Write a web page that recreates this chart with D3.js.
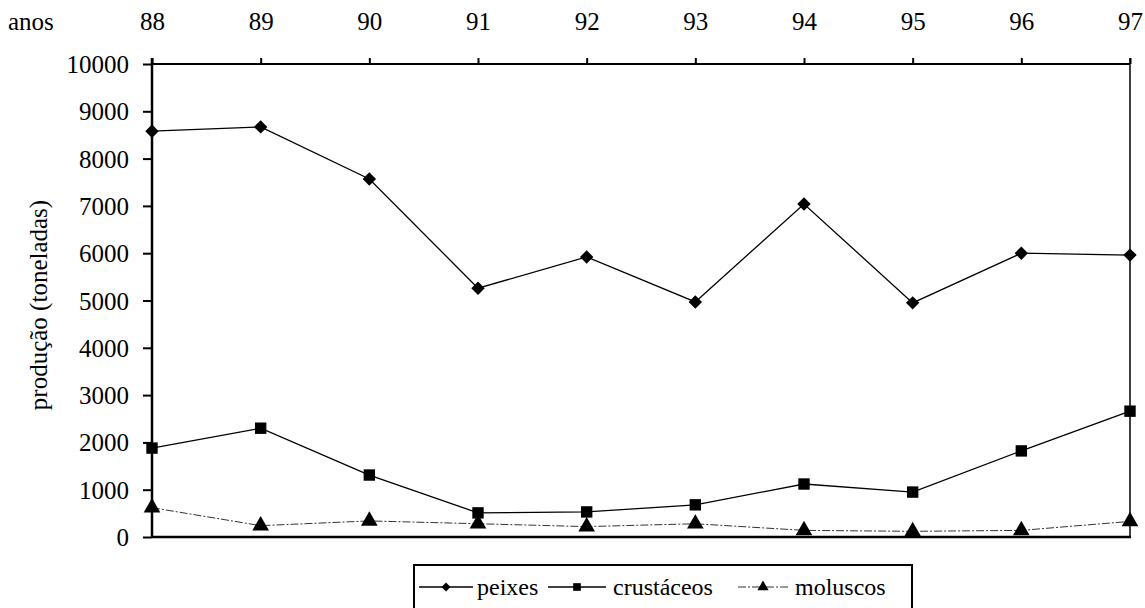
<!DOCTYPE html>
<html>
<head>
<meta charset="utf-8">
<script src="https://cdn.jsdelivr.net/npm/d3@7"></script>
<style>
  text { font-family: 'Liberation Serif' !important; }
</style>
</head>
<body style="margin:0">
<div id="chart-area"></div>
<script>
// data
var anos = ["88", "89", "90", "91", "92", "93", "94", "95", "96", "97"];
var peixes = [8580, 8670, 7570, 5260, 5920, 4970, 7040, 4950, 6000, 5960];
var crustaceos = [1880, 2300, 1310, 510, 530, 680, 1120, 950, 1820, 2660];
var moluscos = [620, 240, 340, 280, 220, 280, 140, 120, 140, 330];
var yTicks = [0, 1000, 2000, 3000, 4000, 5000, 6000, 7000, 8000, 9000, 10000];

function serif(sel, size) {
  sel.attr("font-family", "Liberation Serif")
    .attr("style", "font-family:'Liberation Serif';font-size:" + size + "px");
}

var svg = d3.select("#chart-area").append("svg")
  .attr("width", 1145)
  .attr("height", 608)
  .attr("font-family", "Liberation Serif");

var x = d3.scalePoint()
  .domain(anos)
  .range([152, 1130]);

var y = d3.scaleLinear()
  .domain([0, 10000])
  .range([537, 64]);

// left axis
var yAxis = svg.append("g")
  .attr("transform", "translate(152,0)")
  .call(d3.axisLeft(y).tickValues(yTicks).tickSize(9).tickPadding(14).tickFormat(d3.format("d")));
yAxis.attr("font-family", "Liberation Serif").attr("font-size", 25);
yAxis.select(".domain").attr("stroke-width", 2.5).attr("d", "M0,537V58");
yAxis.selectAll(".tick line").attr("stroke-width", 2);
yAxis.selectAll(".tick text").attr("dy", "0.34em").call(serif, 25);

// top axis
var xAxis = svg.append("g")
  .attr("transform", "translate(0,64)")
  .call(d3.axisTop(x).tickSize(6).tickPadding(0));
xAxis.attr("font-family", "Liberation Serif").attr("font-size", 25);
xAxis.select(".domain").attr("stroke-width", 2).attr("d", "M152,0H1130");
xAxis.selectAll(".tick line").attr("stroke-width", 2);
xAxis.selectAll(".tick text").attr("y", -34).attr("dy", "0").call(serif, 25);

svg.append("text")
  .attr("x", 8)
  .attr("y", 30)
  .call(serif, 25)
  .text("anos");

// bottom + right frame
svg.append("line")
  .attr("x1", 152).attr("x2", 1131)
  .attr("y1", 537).attr("y2", 537)
  .attr("stroke", "#000").attr("stroke-width", 2.5);
svg.append("line")
  .attr("x1", 1130).attr("x2", 1130)
  .attr("y1", 58).attr("y2", 537)
  .attr("stroke", "#000").attr("stroke-width", 1.5);

// y label
svg.append("text")
  .attr("transform", "translate(47,305) rotate(-90)")
  .attr("text-anchor", "middle")
  .call(serif, 25)
  .text("produção (toneladas)");

var series = [
  { name: "peixes", values: peixes, shape: d3.symbolSquare, rot: 45, size: 90, dash: null, color: "#000", width: 1.3 },
  { name: "crustáceos", values: crustaceos, shape: d3.symbolSquare, rot: 0, size: 130, dash: null, color: "#000", width: 1.3 },
  { name: "moluscos", values: moluscos, shape: d3.symbolTriangle, rot: 0, size: 120, dash: "8,2,2,2", color: "#333", width: 1 }
];

var line = d3.line()
  .x((d, i) => x(anos[i]))
  .y((d) => y(d));

series.forEach((s) => {
  svg.append("path")
    .datum(s.values)
    .attr("d", line)
    .attr("fill", "none")
    .attr("stroke", s.color)
    .attr("stroke-width", s.width)
    .attr("stroke-dasharray", s.dash);

  svg.selectAll(".m-" + s.name)
    .data(s.values)
    .enter()
    .append("path")
    .attr("transform", (d, i) => "translate(" + x(anos[i]) + "," + y(d) + ") rotate(" + s.rot + ")")
    .attr("d", d3.symbol().type(s.shape).size(s.size))
    .attr("fill", "#000");
});

// legend
var legend = svg.append("g");
legend.append("rect")
  .attr("x", 414).attr("y", 565)
  .attr("width", 498).attr("height", 60)
  .attr("fill", "#fff")
  .attr("stroke", "#000")
  .attr("stroke-width", 2);

var legendX = [419, 548, 738];
var legendW = [54, 58, 50];
var legendText = [477, 613, 795];
series.forEach((s, i) => {
  var g = legend.append("g").attr("transform", "translate(" + legendX[i] + ",587)");
  g.append("line")
    .attr("x1", 0).attr("x2", legendW[i])
    .attr("stroke", s.color)
    .attr("stroke-width", s.width)
    .attr("stroke-dasharray", s.dash);
  g.append("path")
    .attr("transform", "translate(" + legendW[i] / 2 + ",0) rotate(" + s.rot + ")")
    .attr("d", d3.symbol().type(s.shape).size(s.size * 0.45))
    .attr("fill", "#000");
  legend.append("text")
    .attr("x", legendText[i])
    .attr("y", 595)
    .call(serif, 24)
    .text(s.name);
});
</script>
</body>
</html>
